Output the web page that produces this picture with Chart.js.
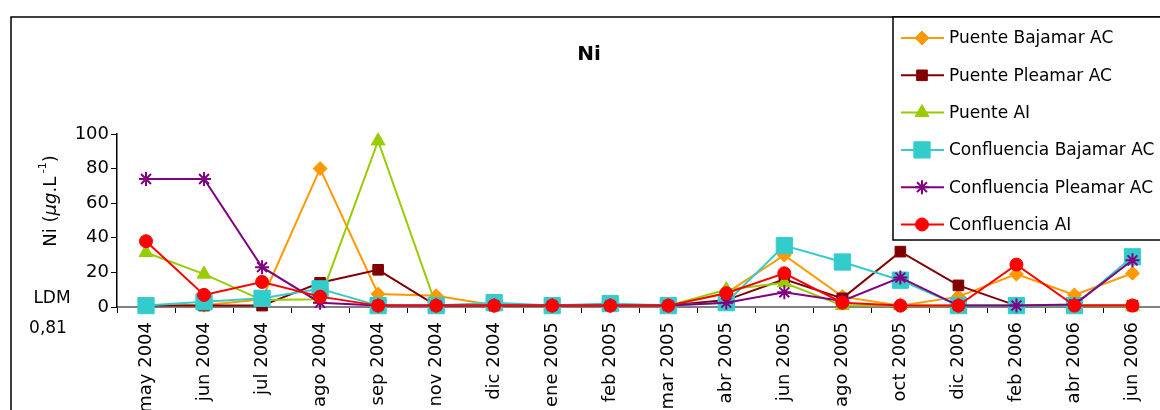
<!DOCTYPE html>
<html>
<head>
<meta charset="utf-8">
<script src="https://cdn.jsdelivr.net/npm/chart.js@4/dist/chart.umd.min.js"></script>
<style>
  html, body { margin: 0; padding: 0; background: #fff; overflow: hidden; }
  #wrap { position: relative; width: 1160px; height: 480px; overflow: hidden; }
</style>
</head>
<body>
<div id="wrap"><canvas id="chart" width="1174" height="480"></canvas></div>
<script>
// sampling dates
const categories = ['may 2004', 'jun 2004', 'jul 2004', 'ago 2004', 'sep 2004', 'nov 2004', 'dic 2004',
  'ene 2005', 'feb 2005', 'mar 2005', 'abr 2005', 'jun 2005', 'ago 2005', 'oct 2005', 'dic 2005',
  'feb 2006', 'abr 2006', 'jun 2006'];

// Ni (ug/L) per station
const puenteBajamar = [0.8, 1, 4.5, 80, 7.5, 6.5, 1, 0.8, 0.8, 0.8, 8, 30, 6, 0.8, 6, 19, 7, 19.5];
const puentePleamar = [0.8, 0.8, 0.8, 14, 21.5, 0.8, 0.8, 0.8, 0.8, 0.8, 4, 16, 5, 32, 12.5, 0.8, 0.8, 0.8];
const puenteAI = [31.5, 19, 4, 4.5, 96, 0.8, 0.8, 0.8, 0.8, 0.8, 10, 14, 0.8, 0.8, 0.8, 0.8, 0.8, 0.5];
const confBajamar = [0.8, 3, 5, 10.5, 0.8, 0.8, 2.5, 0.8, 2, 0.8, 2.5, 35.5, 26, 15.5, 0.8, 0.8, 0.8, 29];
const confPleamar = [74, 74, 23, 2.5, 0.8, 0.8, 0.8, 0.8, 0.8, 0.8, 2.5, 8.5, 3.5, 17, 0.8, 0.8, 1.5, 27];
const confAI = [38, 7, 14.5, 6, 0.8, 0.8, 0.8, 0.8, 0.8, 0.8, 8, 19.5, 2.5, 0.8, 0.8, 24.5, 0.8, 0.8];

const yTicks = [0, 20, 40, 60, 80, 100];

const FONT = '"DejaVu Sans", Verdana, sans-serif';

function series(label, data, color, style, radius, order) {
  return {
    label: label,
    data: data,
    borderColor: color,
    backgroundColor: color,
    pointBackgroundColor: color,
    pointBorderColor: color,
    pointStyle: style,
    pointRadius: radius,
    pointBorderWidth: style === 'star' ? 2 : 1,
    borderWidth: 2,
    tension: 0,
    clip: false,
    order: order
  };
}

const datasets = [
  series('Puente Bajamar AC', puenteBajamar, '#FF9900', 'rectRot', 7, 5),
  series('Puente Pleamar AC', puentePleamar, '#800000', 'rect', 7.5, 4),
  series('Puente AI', puenteAI, '#99CC00', 'triangle', 8, 3),
  series('Confluencia Bajamar AC', confBajamar, '#33CCCC', 'rect', 11.5, 2),
  series('Confluencia Pleamar AC', confPleamar, '#800080', 'star', 7, 1),
  series('Confluencia AI', confAI, '#FF0000', 'circle', 6.5, 0)
];

// frame, title, axis title, LDM note and boxed legend
const decor = {
  id: 'decor',
  afterDraw(chart) {
    const ctx = chart.ctx;
    ctx.save();

    // outer frame
    ctx.strokeStyle = '#000';
    ctx.lineWidth = 1.5;
    ctx.strokeRect(11, 17, 1300, 600);

    // title
    ctx.fillStyle = '#000';
    ctx.font = 'bold 20px ' + FONT;
    ctx.textAlign = 'center';
    ctx.textBaseline = 'middle';
    ctx.fillText('Ni', 589, 55);

    // y axis title: Ni (ug.L-1)
    ctx.save();
    ctx.translate(51, 201);
    ctx.rotate(-Math.PI / 2);
    const parts = [
      ['Ni (', '18px ' + FONT, 0],
      ['\u00b5g', 'italic 18px ' + FONT, 0],
      ['.L', '18px ' + FONT, 0],
      [' -1', '11px ' + FONT, -8],
      [')', '18px ' + FONT, 0]
    ];
    let total = 0;
    parts.forEach(p => { ctx.font = p[1]; total += ctx.measureText(p[0]).width; });
    let x = -total / 2;
    ctx.textAlign = 'left';
    parts.forEach(p => {
      ctx.font = p[1];
      ctx.fillText(p[0], x, p[2]);
      x += ctx.measureText(p[0]).width;
    });
    ctx.restore();

    // detection limit note
    ctx.font = '17px ' + FONT;
    ctx.textAlign = 'center';
    ctx.fillText('LDM', 52, 299);
    ctx.fillText('0,81', 48, 329);

    // legend box
    const lx = 893, ly = 17;
    ctx.fillStyle = '#fff';
    ctx.fillRect(lx, ly, 400, 223);
    ctx.strokeStyle = '#000';
    ctx.lineWidth = 1.5;
    ctx.strokeRect(lx, ly, 400, 223);
    ctx.font = '17px ' + FONT;
    ctx.textAlign = 'left';
    ctx.textBaseline = 'middle';
    chart.data.datasets.forEach((ds, i) => {
      const y = 38 + i * 37.3;
      ctx.strokeStyle = ds.borderColor;
      ctx.lineWidth = 2;
      ctx.beginPath();
      ctx.moveTo(901, y);
      ctx.lineTo(944, y);
      ctx.stroke();
      ctx.fillStyle = ds.pointBackgroundColor;
      ctx.lineWidth = ds.pointBorderWidth;
      if (Chart.helpers && Chart.helpers.drawPoint) {
        Chart.helpers.drawPoint(ctx, {
          pointStyle: ds.pointStyle,
          radius: ds.pointRadius,
          rotation: 0,
          borderWidth: ds.pointBorderWidth
        }, 922, y);
      }
      ctx.fillStyle = '#000';
      ctx.fillText(ds.label, 949, y + 1);
    });

    ctx.restore();
  }
};

new Chart(document.getElementById('chart'), {
  type: 'line',
  data: { labels: categories, datasets: datasets },
  plugins: [decor],
  options: {
    responsive: false,
    animation: false,
    layout: { padding: { top: 134, left: 0, right: 0, bottom: 0 } },
    plugins: {
      legend: { display: false },
      title: { display: false },
      tooltip: { enabled: false }
    },
    scales: {
      x: {
        offset: true,
        afterFit(scale) { scale.height = 480 - 307; },
        grid: {
          offset: true,
          drawOnChartArea: false,
          drawTicks: true,
          tickLength: 6,
          color: '#000'
        },
        border: { display: true, color: '#808080', width: 2 },
        ticks: {
          autoSkip: false,
          minRotation: 90,
          maxRotation: 90,
          padding: 9,
          color: '#000',
          font: { family: FONT, size: 18 }
        }
      },
      y: {
        min: 0,
        max: 100,
        afterFit(scale) { scale.width = 117; },
        afterBuildTicks(scale) { scale.ticks = yTicks.map(v => ({ value: v })); },
        grid: {
          drawOnChartArea: false,
          drawTicks: true,
          tickLength: 6,
          color: '#000'
        },
        border: { display: true, color: '#000', width: 1.5 },
        ticks: {
          padding: 2,
          color: '#000',
          font: { family: FONT, size: 18 }
        }
      }
    }
  }
});
</script>
</body>
</html>
